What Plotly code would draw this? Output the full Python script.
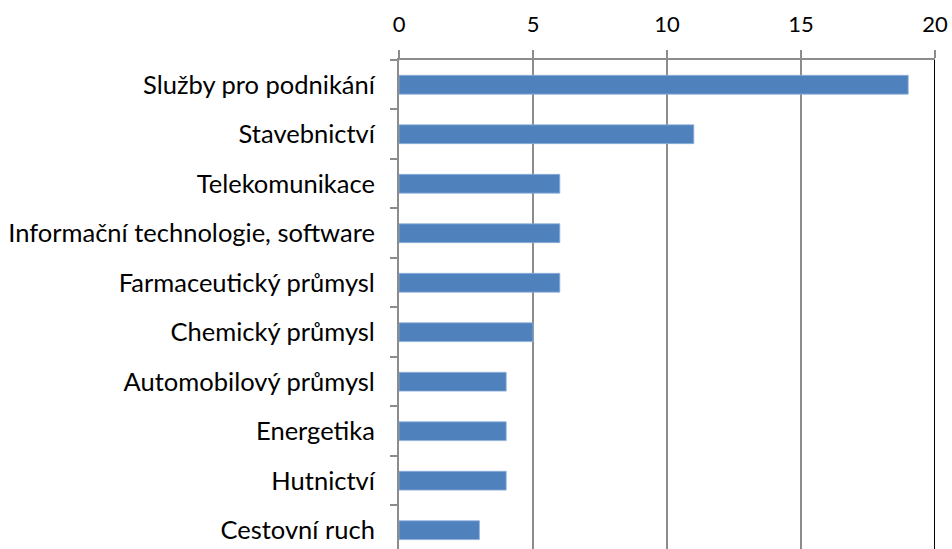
import plotly.graph_objects as go

categories = ["Služby pro podnikání", "Stavebnictví", "Telekomunikace",
              "Informační technologie, software", "Farmaceutický průmysl",
              "Chemický průmysl", "Automobilový průmysl", "Energetika",
              "Hutnictví", "Cestovní ruch"]
values = [19, 11, 6, 6, 6, 5, 4, 4, 4, 3]
x_ticks = [0, 5, 10, 15, 20]

fig = go.Figure()
fig.add_trace(go.Bar(
    y=categories, x=values, orientation="h",
    width=0.38,
    marker=dict(color="#4F81BD", line=dict(color="#8EB0DA", width=0.8)),
))

fig.add_shape(type="line", xref="x", yref="paper", x0=20, x1=20, y0=0, y1=1,
              line=dict(color="#000000", width=2))

font = dict(family="Lato, Carlito, sans-serif", size=25.5, color="#000000")
xfont = dict(family="Lato, Carlito, sans-serif", size=22, color="#000000")

fig.update_layout(
    width=952, height=549,
    margin=dict(l=399, r=17, t=60, b=0),
    paper_bgcolor="white", plot_bgcolor="white",
    showlegend=False,
    font=font,
    xaxis=dict(
        side="top", range=[0, 20], tickvals=x_ticks,
        showgrid=True, gridcolor="#8C8C8C", gridwidth=2,
        showline=True, linecolor="#8C8C8C", linewidth=2,
        ticks="outside", ticklen=8, tickcolor="#8C8C8C", tickwidth=2,
        zeroline=False, tickfont=xfont, ticklabelstandoff=9,
    ),
    yaxis=dict(
        type="category", categoryorder="array", categoryarray=categories,
        range=[9.38, -0.5],
        showgrid=False, zeroline=False,
        showline=True, linecolor="#8C8C8C", linewidth=2,
        ticks="outside", ticklen=7, tickcolor="#8C8C8C", tickwidth=2,
        tickson="boundaries", ticklabelstandoff=17, tickfont=font,
    ),
)

fig.write_html("out.html", config={"displayModeBar": False},
               post_script="document.body.style.margin='0';document.body.style.overflow='hidden';")
